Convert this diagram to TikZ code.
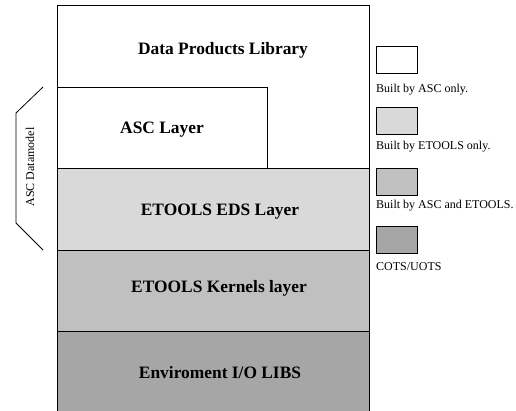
\documentclass[tikz,border=0pt]{standalone}
\usepackage{fontspec}
\setmainfont{Liberation Serif}
\definecolor{edsgray}{HTML}{D9D9D9}
\definecolor{kernelgray}{HTML}{C0C0C0}
\definecolor{cotsgray}{HTML}{A6A6A6}
\begin{document}
\begin{tikzpicture}[x=1pt,y=-1pt,
  layerbox/.style={draw=black,line width=1pt,rectangle,inner sep=0pt,minimum width=312pt},
  layertext/.style={font=\fontsize{17.4}{20}\selectfont\bfseries,inner sep=0pt},
  keybox/.style={draw=black,line width=0.9pt,rectangle,inner sep=0pt,minimum width=41pt,minimum height=27pt},
  keytext/.style={font=\fontsize{12}{14}\selectfont,anchor=west,inner sep=0pt},
  bracket/.style={draw=black,line width=0.8pt}]
\useasboundingbox (0,0) rectangle (516,410);
% layer stack
\node[layerbox,fill=white,minimum height=163pt] (dpl) at (213,86.5) {};
\node[layerbox,fill=white,minimum width=210pt,minimum height=81pt] (asc) at (162,127.5) {};
\node[layerbox,fill=edsgray,minimum height=82pt] (eds) at (213,209) {};
\node[layerbox,fill=kernelgray,minimum height=81pt] (ker) at (213,290.5) {};
\node[layerbox,fill=cotsgray,minimum height=82pt] (env) at (213,372) {};
% layer names
\node[layertext] (dplt) at (223,50) {Data Products Library};
\node[layertext] (asct) at (162,130) {ASC Layer};
\node[layertext] (edst) at (220,212) {ETOOLS EDS Layer};
\node[layertext] (kert) at (219,288) {ETOOLS Kernels layer};
\node[layertext] (envt) at (220,372.5) {Enviroment I/O LIBS};
% key
\node[keybox,fill=white] (k1) at (396.5,59.5) {};
\node[keytext] (k1t) at (376,89.5) {Built by ASC only.};
\node[keybox,fill=edsgray] (k2) at (396.5,121) {};
\node[keytext] (k2t) at (376,146.5) {Built by ETOOLS only.};
\node[keybox,fill=kernelgray] (k3) at (396.5,181.5) {};
\node[keytext] (k3t) at (376,205.5) {Built by ASC and ETOOLS.};
\node[keybox,fill=cotsgray] (k4) at (396.5,239.5) {};
\node[keytext] (k4t) at (376,267) {COTS/UOTS};
% datamodel bracket
\coordinate (bt) at (43,87);
\coordinate (bu) at (16,113);
\coordinate (bl) at (16,223);
\coordinate (bb) at (43,250);
\draw[bracket] (bt) -- (bu) -- (bl) -- (bb);
\node[font=\fontsize{12}{14}\selectfont,rotate=90,inner sep=0pt] (dm) at (30,167) {ASC Datamodel};
\end{tikzpicture}
\end{document}
